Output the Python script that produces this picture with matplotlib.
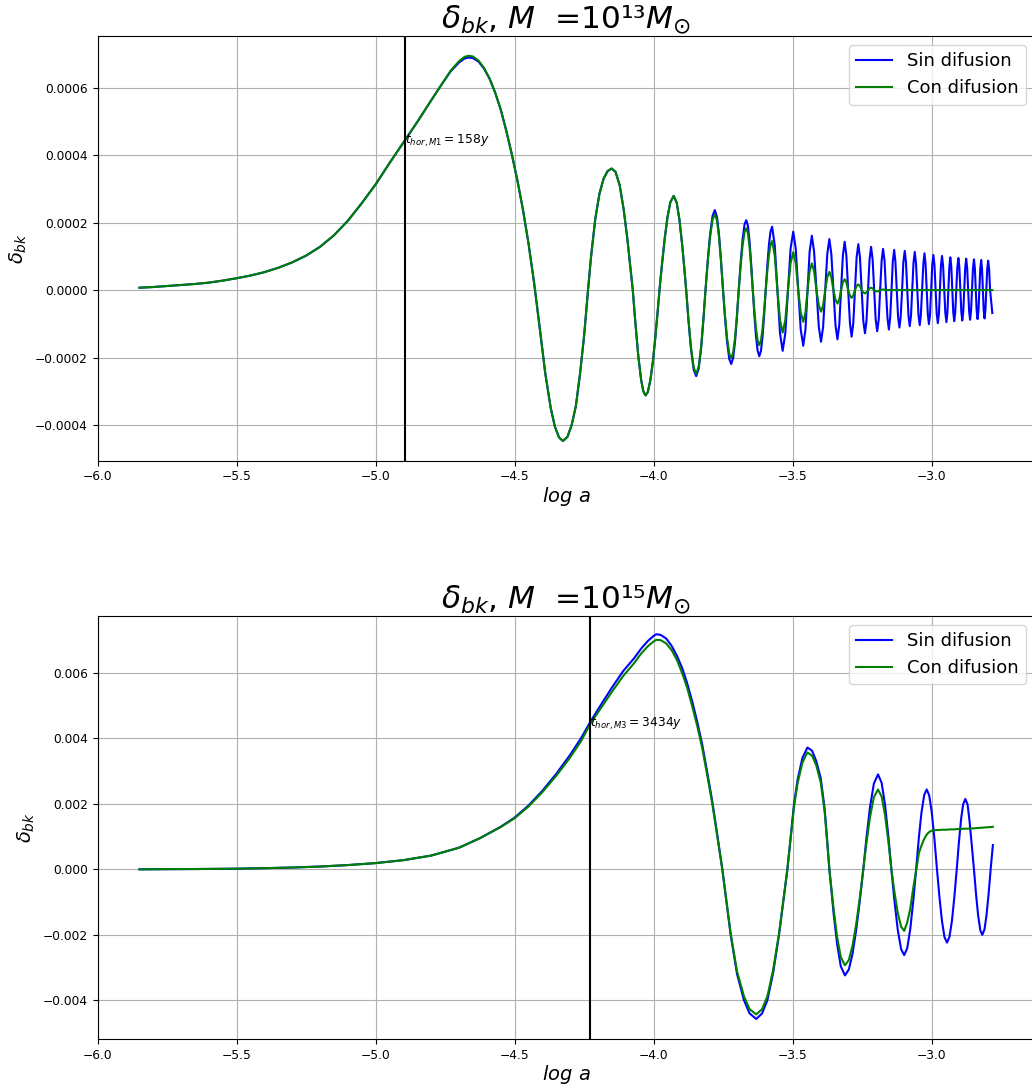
import matplotlib
matplotlib.use("Agg")
import matplotlib.pyplot as plt

# ---------------------------------------------------------------------------
# delta_bk versus log a for M = 1e13 Msun (delta values in units of 1e-4)
# ---------------------------------------------------------------------------
loga_13 = [
    -5.849, -5.80, -5.75, -5.70, -5.65, -5.60, -5.55, -5.50, -5.45, -5.40,
    -5.35, -5.30, -5.25, -5.20, -5.15, -5.10, -5.05, -5.00, -4.95, -4.90,
    -4.85, -4.80, -4.76, -4.73, -4.70, -4.68, -4.665, -4.65, -4.63, -4.61,
    -4.59, -4.57, -4.55, -4.53, -4.51, -4.49, -4.47, -4.45, -4.43, -4.41,
    -4.39, -4.37, -4.355, -4.34, -4.326, -4.31, -4.295, -4.28, -4.265, -4.25,
    -4.236, -4.225, -4.21, -4.195, -4.18, -4.165, -4.151, -4.137, -4.122, -4.108,
    -4.095, -4.082, -4.075, -4.066, -4.055, -4.045, -4.037, -4.029, -4.021, -4.012,
    -4.003, -3.994, -3.986, -3.979, -3.970, -3.960, -3.950, -3.940, -3.928, -3.917,
    -3.907, -3.897, -3.890, -3.883,
    -3.875, -3.866, -3.856, -3.847, -3.838, -3.829, -3.821, -3.8135,
    -3.805, -3.797, -3.788, -3.780, -3.772, -3.765, -3.758, -3.7505,
    -3.743, -3.736, -3.728, -3.721, -3.714, -3.7075, -3.701, -3.694,
    -3.687, -3.680, -3.673, -3.667, -3.661, -3.655, -3.649, -3.6435,
    -3.638, -3.632, -3.626, -3.620, -3.614, -3.6085, -3.603, -3.597,
    -3.5915, -3.5855, -3.580, -3.574, -3.5645, -3.555,
    -3.5455, -3.536, -3.5265, -3.517,
    -3.5075, -3.498, -3.489, -3.480,
    -3.471, -3.462, -3.454, -3.4465,
    -3.439, -3.431, -3.423, -3.4145,
    -3.406, -3.398, -3.3905, -3.383,
    -3.3755, -3.368, -3.361, -3.3535,
    -3.346, -3.339, -3.3325, -3.326,
    -3.3195, -3.313, -3.3068, -3.3005,
    -3.294, -3.288, -3.282, -3.276,
    -3.270, -3.264, -3.258, -3.252,
    -3.246, -3.240, -3.2345, -3.229,
    -3.2235, -3.218, -3.2125, -3.207,
    -3.2015, -3.196, -3.1905, -3.1855,
    -3.180, -3.175, -3.1695, -3.1645,
    -3.159, -3.154, -3.1495, -3.1445,
    -3.140, -3.135, -3.1305, -3.1255,
    -3.121, -3.116, -3.1115, -3.1065,
    -3.102, -3.097, -3.0925, -3.088,
    -3.0835, -3.079, -3.0745, -3.070,
    -3.0655, -3.061, -3.0565, -3.052,
    -3.0475, -3.043, -3.039, -3.0345,
    -3.030, -3.026, -3.022, -3.018,
    -3.014, -3.010, -3.006, -3.002,
    -2.998, -2.994, -2.990, -2.986,
    -2.982, -2.978, -2.974, -2.9705,
    -2.9668, -2.963, -2.959, -2.955,
    -2.951, -2.947, -2.9435, -2.940,
    -2.9365, -2.933, -2.9295, -2.926,
    -2.9225, -2.919, -2.9153, -2.9115,
    -2.9078, -2.904, -2.9005, -2.897,
    -2.8935, -2.890, -2.8865, -2.883,
    -2.8795, -2.876, -2.8725, -2.869,
    -2.8655, -2.862, -2.8585, -2.855,
    -2.8515, -2.848, -2.8448, -2.8415,
    -2.8383, -2.835, -2.8318, -2.8285,
    -2.8253, -2.822, -2.819, -2.816,
    -2.813, -2.810, -2.8068, -2.8035,
    -2.8003, -2.797, -2.7935, -2.790,
    -2.782,
]
delta_13_sin = [
    0.07, 0.09, 0.12, 0.15, 0.18, 0.22, 0.28, 0.35, 0.43, 0.53,
    0.66, 0.82, 1.02, 1.28, 1.62, 2.05, 2.57, 3.13, 3.76, 4.37,
    4.98, 5.62, 6.12, 6.48, 6.74, 6.86, 6.89, 6.87, 6.77, 6.56,
    6.26, 5.85, 5.35, 4.72, 4.02, 3.25, 2.38, 1.38, 0.22, -1.10,
    -2.45, -3.50, -4.05, -4.37, -4.47, -4.35, -4.00, -3.45, -2.50, -1.35,
    0.00, 1.00, 2.10, 2.85, 3.30, 3.53, 3.60, 3.50, 3.10, 2.40,
    1.55, 0.55, 0.00, -0.94, -1.97, -2.66, -3.00, -3.12, -3.02, -2.68,
    -2.14, -1.41, -0.68, 0.00, 0.76, 1.54, 2.17, 2.60, 2.79, 2.59,
    2.07, 1.31, 0.68, 0.00,
    -0.87, -1.72, -2.36, -2.55, -2.33, -1.71, -0.88, 0.00,
    0.92, 1.65, 2.20, 2.37, 2.16, 1.65, 0.92, 0.00,
    -0.85, -1.53, -2.04, -2.19, -2.01, -1.55, -0.87, 0.00,
    0.82, 1.51, 1.95, 2.07, 1.91, 1.44, 0.74, 0.00,
    -0.70, -1.36, -1.80, -1.96, -1.80, -1.39, -0.78, 0.00,
    0.69, 1.33, 1.72, 1.88, 1.33, 0.00,
    -1.28, -1.80, -1.28, 0.00,
    1.23, 1.73, 1.23, 0.00,
    -1.17, -1.65, -1.17, 0.00,
    1.14, 1.61, 1.14, 0.00,
    -1.09, -1.53, -1.09, 0.00,
    1.07, 1.51, 1.07, 0.00,
    -1.04, -1.46, -1.04, 0.00,
    1.02, 1.43, 1.02, 0.00,
    -0.98, -1.38, -0.98, 0.00,
    0.97, 1.36, 0.97, 0.00,
    -0.91, -1.28, -0.91, 0.00,
    0.91, 1.28, 0.91, 0.00,
    -0.87, -1.22, -0.87, 0.00,
    0.87, 1.22, 0.87, 0.00,
    -0.83, -1.17, -0.83, 0.00,
    0.84, 1.19, 0.84, 0.00,
    -0.79, -1.11, -0.79, 0.00,
    0.82, 1.16, 0.82, 0.00,
    -0.76, -1.07, -0.76, 0.00,
    0.80, 1.13, 0.80, 0.00,
    -0.74, -1.04, -0.74, 0.00,
    0.77, 1.09, 0.77, 0.00,
    -0.72, -1.01, -0.72, 0.00,
    0.74, 1.04, 0.74, 0.00,
    -0.70, -0.98, -0.70, 0.00,
    0.72, 1.01, 0.72, 0.00,
    -0.67, -0.95, -0.67, 0.00,
    0.69, 0.97, 0.69, 0.00,
    -0.65, -0.92, -0.65, 0.00,
    0.67, 0.95, 0.67, 0.00,
    -0.64, -0.90, -0.64, 0.00,
    0.66, 0.93, 0.66, 0.00,
    -0.62, -0.88, -0.62, 0.00,
    0.65, 0.91, 0.65, 0.00,
    -0.61, -0.86, -0.61, 0.00,
    0.63, 0.89, 0.63, 0.00,
    -0.60, -0.84, -0.60, 0.00,
    0.62, 0.87, 0.62, 0.00,
    -0.68,
]
delta_13_con = [
    0.07, 0.09, 0.12, 0.15, 0.18, 0.22, 0.28, 0.35, 0.43, 0.53,
    0.66, 0.82, 1.02, 1.28, 1.62, 2.05, 2.57, 3.13, 3.76, 4.37,
    4.98, 5.62, 6.12, 6.50, 6.78, 6.91, 6.94, 6.92, 6.80, 6.58,
    6.27, 5.85, 5.35, 4.72, 4.02, 3.25, 2.38, 1.38, 0.22, -1.10,
    -2.45, -3.50, -4.05, -4.37, -4.47, -4.35, -4.00, -3.45, -2.50, -1.35,
    0.00, 1.00, 2.10, 2.85, 3.30, 3.53, 3.60, 3.50, 3.10, 2.40,
    1.55, 0.55, 0.00, -0.94, -1.97, -2.66, -3.00, -3.12, -3.02, -2.68,
    -2.14, -1.41, -0.68, 0.00, 0.76, 1.54, 2.17, 2.60, 2.79, 2.59,
    2.07, 1.31, 0.68, 0.00,
    -0.85, -1.68, -2.29, -2.48, -2.27, -1.66, -0.85, 0.00,
    0.87, 1.57, 2.09, 2.25, 2.05, 1.57, 0.87, 0.00,
    -0.79, -1.41, -1.88, -2.02, -1.85, -1.43, -0.80, 0.00,
    0.72, 1.33, 1.72, 1.83, 1.69, 1.27, 0.66, 0.00,
    -0.58, -1.13, -1.50, -1.63, -1.49, -1.15, -0.65, 0.00,
    0.53, 1.03, 1.33, 1.45, 1.03, 0.00,
    -0.89, -1.26, -0.89, 0.00,
    0.80, 1.12, 0.80, 0.00,
    -0.67, -0.94, -0.67, 0.00,
    0.56, 0.79, 0.56, 0.00,
    -0.45, -0.64, -0.45, 0.00,
    0.38, 0.54, 0.38, 0.00,
    -0.28, -0.40, -0.28, 0.00,
    0.23, 0.32, 0.23, 0.00,
    -0.16, -0.23, -0.16, 0.00,
    0.12, 0.17, 0.12, 0.00,
    -0.07, -0.10, -0.07, 0.00,
    0.05, 0.07, 0.05, 0.00,
    -0.03, -0.04, -0.03, 0.00,
    0.01, 0.02, 0.01, 0.00,
    0.00, 0.00, 0.00, 0.00,
    0.00, 0.00, 0.00, 0.00,
    0.00, 0.00, 0.00, 0.00,
    0.00, 0.00, 0.00, 0.00,
    0.00, 0.00, 0.00, 0.00,
    0.00, 0.00, 0.00, 0.00,
    0.00, 0.00, 0.00, 0.00,
    0.00, 0.00, 0.00, 0.00,
    0.00, 0.00, 0.00, 0.00,
    0.00, 0.00, 0.00, 0.00,
    0.00, 0.00, 0.00, 0.00,
    0.00, 0.00, 0.00, 0.00,
    0.00, 0.00, 0.00, 0.00,
    0.00, 0.00, 0.00, 0.00,
    0.00, 0.00, 0.00, 0.00,
    0.00, 0.00, 0.00, 0.00,
    0.00, 0.00, 0.00, 0.00,
    0.00, 0.00, 0.00, 0.00,
    0.00, 0.00, 0.00, 0.00,
    0.00, 0.00, 0.00, 0.00,
    0.00, 0.00, 0.00, 0.00,
    0.00, 0.00, 0.00, 0.00,
    0.00, 0.00, 0.00, 0.00,
    0.00, 0.00, 0.00, 0.00,
    0.00,
]

# ---------------------------------------------------------------------------
# delta_bk versus log a for M = 1e15 Msun (delta values in units of 1e-3)
# ---------------------------------------------------------------------------
loga_15 = [
    -5.849, -5.75, -5.60, -5.50, -5.40, -5.30, -5.20, -5.10, -5.00, -4.90,
    -4.80, -4.70, -4.625, -4.55, -4.50, -4.45, -4.40, -4.35, -4.30, -4.26,
    -4.228, -4.19, -4.15, -4.11, -4.07, -4.045, -4.02, -4.00, -3.99, -3.975,
    -3.955, -3.935, -3.915, -3.897, -3.88, -3.861, -3.843, -3.825, -3.807, -3.789,
    -3.771, -3.753, -3.738, -3.723, -3.70, -3.675, -3.655, -3.631, -3.61, -3.591,
    -3.57, -3.549, -3.534, -3.519, -3.507, -3.495, -3.482, -3.465, -3.447, -3.43,
    -3.415, -3.399, -3.385, -3.3765, -3.368, -3.352, -3.34, -3.327, -3.312, -3.298,
    -3.285, -3.272, -3.259, -3.246, -3.235, -3.222, -3.208, -3.193, -3.180, -3.168,
    -3.156, -3.145, -3.134, -3.122, -3.110, -3.099, -3.088, -3.077, -3.066, -3.056,
    -3.046, -3.037, -3.027, -3.018, -3.009, -3.000, -2.990, -2.981, -2.972, -2.963,
    -2.954, -2.945, -2.936, -2.927, -2.918, -2.910, -2.902, -2.894, -2.887, -2.879,
    -2.871, -2.864, -2.856, -2.848, -2.840, -2.833, -2.825, -2.818, -2.810, -2.803,
    -2.795, -2.788, -2.780,
]
delta_15_sin = [
    0.00, 0.005, 0.012, 0.02, 0.035, 0.055, 0.085, 0.13, 0.19, 0.28,
    0.42, 0.66, 0.95, 1.30, 1.58, 1.95, 2.40, 2.92, 3.50, 4.02,
    4.50, 5.02, 5.55, 6.05, 6.45, 6.74, 6.98, 7.13, 7.18, 7.16,
    7.05, 6.82, 6.50, 6.14, 5.70, 5.12, 4.50, 3.80, 2.95, 2.07,
    1.05, 0.00, -1.00, -2.00, -3.20, -4.00, -4.40, -4.57, -4.40, -4.00,
    -3.15, -2.00, -1.00, 0.00, 1.00, 2.00, 2.75, 3.40, 3.72, 3.62,
    3.30, 2.78, 1.85, 0.95, 0.00, -1.41, -2.29, -2.96, -3.24, -3.06,
    -2.59, -1.88, -1.00, 0.00, 0.93, 1.89, 2.62, 2.90, 2.64, 1.98,
    1.02, 0.00, -0.96, -1.85, -2.44, -2.62, -2.41, -1.82, -0.94, 0.00,
    0.98, 1.72, 2.27, 2.44, 2.26, 1.76, 0.91, 0.00, -0.86, -1.58,
    -2.07, -2.24, -2.06, -1.56, -0.80, 0.00, 0.84, 1.56, 1.98, 2.15,
    1.98, 1.48, 0.75, 0.00, -0.81, -1.41, -1.87, -2.00, -1.83, -1.41,
    -0.72, 0.00, 0.74,
]
delta_15_con = [
    0.00, 0.005, 0.012, 0.02, 0.035, 0.055, 0.085, 0.13, 0.19, 0.28,
    0.42, 0.66, 0.95, 1.29, 1.56, 1.92, 2.36, 2.86, 3.42, 3.93,
    4.44, 4.92, 5.42, 5.90, 6.30, 6.59, 6.82, 6.96, 7.01, 7.00,
    6.90, 6.69, 6.37, 5.98, 5.56, 4.97, 4.37, 3.69, 2.86, 2.00,
    1.00, 0.00, -0.98, -1.96, -3.12, -3.88, -4.27, -4.43, -4.27, -3.88,
    -3.06, -1.95, -0.98, 0.00, 0.97, 1.93, 2.64, 3.26, 3.57, 3.47,
    3.17, 2.65, 1.76, 0.90, 0.00, -1.27, -2.07, -2.68, -2.93, -2.77,
    -2.34, -1.70, -0.90, 0.00, 0.78, 1.59, 2.20, 2.44, 2.22, 1.67,
    0.86, 0.00, -0.69, -1.33, -1.75, -1.88, -1.62, -1.20, -0.55, -0.04,
    0.50, 0.72, 0.93, 1.06, 1.14, 1.18, 1.195, 1.20, 1.20, 1.21,
    1.21, 1.21, 1.22, 1.22, 1.22, 1.23, 1.23, 1.23, 1.24, 1.24,
    1.24, 1.25, 1.25, 1.25, 1.26, 1.26, 1.27, 1.27, 1.28, 1.28,
    1.29, 1.29, 1.30,
]

assert len(loga_13) == len(delta_13_sin) == len(delta_13_con)
assert len(loga_15) == len(delta_15_sin) == len(delta_15_con)

# Horizon-crossing epochs and their annotations
loga_hor = [-4.894, -4.228]
labels_hor = [r"$t_{hor,M1}=158y$", r"$t_{hor,M3}=3434y$"]
label_heights = [4.33e-4, 4.35e-3]

titles = [r"$\delta_{bk}$, $M\ $ =10¹³$M_{\odot}$",
          r"$\delta_{bk}$, $M\ $ =10¹⁵$M_{\odot}$"]
series_names = ["Sin difusion", "Con difusion"]

fig = plt.figure(figsize=(10.32, 10.88), dpi=100)
ax_top = fig.add_axes([0.0945, 0.5767, 0.908, 0.3902])
ax_bot = fig.add_axes([0.0945, 0.0450, 0.908, 0.3891])

panels = [
    (ax_top, loga_13, [v * 1e-4 for v in delta_13_sin],
     [v * 1e-4 for v in delta_13_con], (-5.05e-4, 7.526e-4)),
    (ax_bot, loga_15, [v * 1e-3 for v in delta_15_sin],
     [v * 1e-3 for v in delta_15_con], (-5.183e-3, 7.746e-3)),
]

for i, (ax, xs, ys_sin, ys_con, ylim) in enumerate(panels):
    ax.plot(xs, ys_sin, color="blue", lw=1.5, label=series_names[0])
    ax.plot(xs, ys_con, color="green", lw=1.5, label=series_names[1])
    ax.axvline(loga_hor[i], color="black", lw=1.5)
    ax.text(loga_hor[i], label_heights[i], labels_hor[i], fontsize=8.8)
    ax.set_xlim(-6.0, -2.63)
    ax.set_ylim(*ylim)
    ax.grid(True)
    ax.set_title(titles[i], fontsize=22.5, pad=4)
    ax.set_xlabel(r"$log\ a$", fontsize=14, labelpad=1)
    ax.set_ylabel(r"$\delta_{bk}$", fontsize=14)
    ax.tick_params(labelsize=8.8)
    ax.legend(loc="upper right", fontsize=13)

fig.savefig("out.png", dpi=100)
